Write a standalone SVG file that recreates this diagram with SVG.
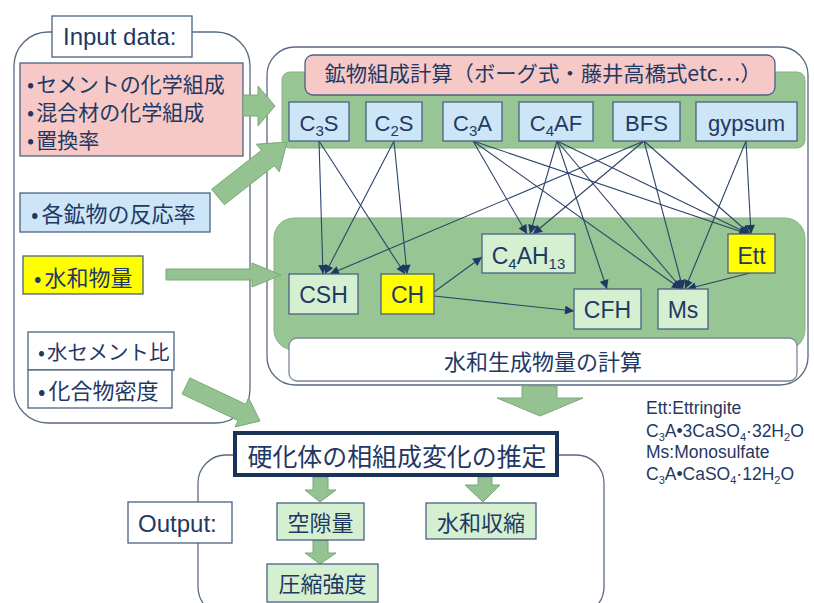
<svg xmlns="http://www.w3.org/2000/svg" width="814" height="603" viewBox="0 0 814 603">
<defs>
<style>
.cj{font-family:'Noto Sans CJK JP','Noto Sans CJK SC',sans-serif;fill:#1f3864}
.la{font-family:'Liberation Sans',Arial,sans-serif;fill:#1f3864}
.cont{fill:#ffffff;stroke:#5a6a80;stroke-width:1.3}
.panel{fill:#98c594;stroke:#88b384;stroke-width:1}
.bx{stroke:#4a6283;stroke-width:1.3}
.pink{fill:#f6c9c6}
.blue{fill:#cce6f7}
.lg{fill:#d5f0d1}
.yel{fill:#ffff00}
.wh{fill:#ffffff}
.garrow{fill:#94c290;stroke:#7aa876;stroke-width:1}
.con{stroke:#2c4468;stroke-width:1.1;fill:none;marker-end:url(#ah)}
</style>
<marker id="ah" viewBox="0 0 10 10" refX="10" refY="5" markerWidth="10" markerHeight="9" markerUnits="userSpaceOnUse" orient="auto">
<path d="M0,0 L10,5 L0,10 z" fill="#1f3864"/>
</marker>
</defs>

<!-- containers -->
<g id="input-container"><rect class="cont" x="14" y="32" width="236" height="391" rx="34"/></g>
<g id="calc-container"><rect class="cont" x="267" y="47" width="541" height="338" rx="28"/></g>
<g id="output-container"><rect class="cont" x="198" y="455" width="406" height="160" rx="28"/></g>

<!-- green panels -->
<g id="mineral-panel"><rect class="panel" x="282" y="72" width="523" height="76" rx="8"/></g>
<g id="hydrate-panel"><rect class="panel" x="274" y="218" width="531" height="132" rx="20"/></g>

<!-- connectors -->
<g id="connectors">
<line class="con" x1="319" y1="141" x2="323" y2="274"/>
<line class="con" x1="319" y1="141" x2="405" y2="274"/>
<line class="con" x1="394" y1="141" x2="325" y2="274"/>
<line class="con" x1="394" y1="141" x2="407" y2="274"/>
<line class="con" x1="644" y1="141" x2="330" y2="274"/>
<line class="con" x1="473" y1="141" x2="527" y2="234"/>
<line class="con" x1="557" y1="141" x2="530" y2="234"/>
<line class="con" x1="644" y1="141" x2="533" y2="234"/>
<line class="con" x1="473" y1="141" x2="748" y2="234"/>
<line class="con" x1="557" y1="141" x2="749" y2="234"/>
<line class="con" x1="644" y1="141" x2="750" y2="234"/>
<line class="con" x1="746" y1="141" x2="751" y2="234"/>
<line class="con" x1="473" y1="141" x2="681" y2="289"/>
<line class="con" x1="557" y1="141" x2="682" y2="289"/>
<line class="con" x1="644" y1="141" x2="683" y2="289"/>
<line class="con" x1="746" y1="141" x2="685" y2="289"/>
<line class="con" x1="557" y1="141" x2="607" y2="289"/>
<line class="con" x1="750" y1="273" x2="687" y2="289"/>
<line class="con" x1="434" y1="292" x2="482" y2="257"/>
<line class="con" x1="434" y1="296" x2="574" y2="311"/>
</g>

<!-- input nodes -->
<g id="input-label"><rect class="bx wh" x="52" y="16" width="140" height="41"/><text class="la" x="63" y="45" font-size="24">Input data:</text></g>
<g id="input-composition"><rect class="bx pink" x="20" y="63" width="223" height="93"/>
<text class="cj" x="27" y="91.5" font-size="21">•<tspan dx="2">セメントの化学組成</tspan></text>
<text class="cj" x="27" y="119.5" font-size="21">•<tspan dx="2">混合材の化学組成</tspan></text>
<text class="cj" x="27" y="148" font-size="21">•<tspan dx="2">置換率</tspan></text></g>
<g id="input-reaction"><rect class="bx blue" x="20" y="193" width="190" height="39"/><text class="cj" x="31" y="222" font-size="22">•<tspan dx="3">各鉱物の反応率</tspan></text></g>
<g id="input-hydrate"><rect class="bx yel" x="23" y="256" width="120" height="38"/><text class="cj" x="34" y="286" font-size="22">•<tspan dx="3">水和物量</tspan></text></g>
<g id="input-wc"><rect class="bx wh" x="28" y="332" width="146" height="38"/><text class="cj" x="38" y="360" font-size="20.5">•<tspan dx="2">水セメント比</tspan></text></g>
<g id="input-density"><rect class="bx wh" x="28" y="370" width="144" height="38"/><text class="cj" x="38" y="399" font-size="22">•<tspan dx="3">化合物密度</tspan></text></g>

<!-- mineral calc -->
<g id="mineral-calc"><rect class="bx pink" x="305" y="55" width="470" height="40" rx="8"/><text class="cj" x="543" y="81" font-size="21" text-anchor="middle" textLength="437" lengthAdjust="spacingAndGlyphs">鉱物組成計算（ボーグ式・藤井高橋式etc…）</text></g>
<g id="C3S"><rect class="bx blue" x="289" y="102" width="60" height="39"/><text class="la" x="319" y="131" font-size="22" text-anchor="middle">C<tspan font-size="15" dy="5">3</tspan><tspan dy="-5">S</tspan></text></g>
<g id="C2S"><rect class="bx blue" x="366" y="102" width="56" height="39"/><text class="la" x="394" y="131" font-size="22" text-anchor="middle">C<tspan font-size="15" dy="5">2</tspan><tspan dy="-5">S</tspan></text></g>
<g id="C3A"><rect class="bx blue" x="443" y="102" width="59" height="39"/><text class="la" x="472.5" y="131" font-size="22" text-anchor="middle">C<tspan font-size="15" dy="5">3</tspan><tspan dy="-5">A</tspan></text></g>
<g id="C4AF"><rect class="bx blue" x="519" y="102" width="74" height="39"/><text class="la" x="556" y="131" font-size="22" text-anchor="middle">C<tspan font-size="15" dy="5">4</tspan><tspan dy="-5">AF</tspan></text></g>
<g id="BFS"><rect class="bx blue" x="613" y="102" width="67" height="39"/><text class="la" x="646.5" y="131" font-size="22" text-anchor="middle">BFS</text></g>
<g id="gypsum"><rect class="bx blue" x="696" y="102" width="101" height="39"/><text class="la" x="746.5" y="131" font-size="22" text-anchor="middle">gypsum</text></g>

<!-- hydrates -->
<g id="CSH"><rect class="bx lg" x="289" y="274" width="69" height="40"/><text class="la" x="323.5" y="303" font-size="23" text-anchor="middle">CSH</text></g>
<g id="CH"><rect class="bx yel" x="381" y="274" width="53" height="40"/><text class="la" x="407.5" y="303" font-size="23" text-anchor="middle">CH</text></g>
<g id="C4AH13"><rect class="bx lg" x="482" y="234" width="93" height="39"/><text class="la" x="528.5" y="264" font-size="23" text-anchor="middle">C<tspan font-size="15" dy="5">4</tspan><tspan dy="-5">AH</tspan><tspan font-size="15" dy="5">13</tspan></text></g>
<g id="Ett"><rect class="bx yel" x="728" y="234" width="47" height="39"/><text class="la" x="751.5" y="264" font-size="23" text-anchor="middle">Ett</text></g>
<g id="CFH"><rect class="bx lg" x="574" y="289" width="67" height="40"/><text class="la" x="607.5" y="318" font-size="23" text-anchor="middle">CFH</text></g>
<g id="Ms"><rect class="bx lg" x="658" y="289" width="50" height="40"/><text class="la" x="683" y="318" font-size="23" text-anchor="middle">Ms</text></g>
<g id="hydrate-calc"><rect x="289" y="338" width="508" height="43" rx="8" fill="#ffffff" stroke="#7a8798" stroke-width="1.3"/><text class="cj" x="543" y="370" font-size="22" text-anchor="middle">水和生成物量の計算</text></g>

<!-- green arrows -->
<g id="green-arrows">
<polygon class="garrow" points="243,95 258,95 258,86 275,106 258,126 258,116 243,116"/>
<polygon class="garrow" points="224.4,204.7 274.2,165.7 279.3,171.8 287,142 256.3,144.2 261.4,150.3 211.6,189.3"/>
<polygon class="garrow" points="166,269 252,269 252,263 281,275 252,287 252,280 166,280"/>
<polygon class="garrow" points="182.1,394.1 238,420.5 235.1,426.9 260,421 248.7,397.9 245.8,404.3 189.9,377.9"/>
<polygon class="garrow" points="522,386 557,386 557,398 583,398 540,416 497,398 522,398"/>
<polygon class="garrow" points="313,477 328,477 328,490 336,490 320,502 305,490 313,490"/>
<polygon class="garrow" points="313,540 328,540 328,553 336,553 320,564 305,553 313,553"/>
<polygon class="garrow" points="478,477 492,477 492,485 500,485 483,502 465,485 478,485"/>
</g>

<!-- output -->
<g id="estimate"><rect x="235" y="433" width="322" height="42" fill="#ffffff" stroke="#1a3358" stroke-width="4"/><text class="cj" x="397" y="466" font-size="25" text-anchor="middle" textLength="299" lengthAdjust="spacingAndGlyphs">硬化体の相組成変化の推定</text></g>
<g id="output-label"><rect class="bx wh" x="128" y="502" width="104" height="41"/><text class="la" x="138" y="532" font-size="24">Output:</text></g>
<g id="porosity"><rect class="bx lg" x="277" y="503" width="87" height="37"/><text class="cj" x="320.5" y="531" font-size="22" text-anchor="middle">空隙量</text></g>
<g id="strength"><rect class="bx lg" x="267" y="564" width="111" height="38"/><text class="cj" x="322.5" y="592" font-size="22" text-anchor="middle">圧縮強度</text></g>
<g id="shrinkage"><rect class="bx lg" x="426" y="503" width="110" height="36"/><text class="cj" x="481" y="531" font-size="22" text-anchor="middle">水和収縮</text></g>

<!-- legend -->
<g id="legend">
<text class="la" x="646" y="414" font-size="17.5">Ett:Ettringite</text>
<text class="la" x="646" y="437" font-size="17.5">C<tspan font-size="11" dy="4">3</tspan><tspan dy="-4">A•3CaSO</tspan><tspan font-size="11" dy="4">4</tspan><tspan dy="-4">·32H</tspan><tspan font-size="11" dy="4">2</tspan><tspan dy="-4">O</tspan></text>
<text class="la" x="646" y="458" font-size="17.5">Ms:Monosulfate</text>
<text class="la" x="646" y="480" font-size="17.5">C<tspan font-size="11" dy="4">3</tspan><tspan dy="-4">A•CaSO</tspan><tspan font-size="11" dy="4">4</tspan><tspan dy="-4">·12H</tspan><tspan font-size="11" dy="4">2</tspan><tspan dy="-4">O</tspan></text>
</g>
</svg>
